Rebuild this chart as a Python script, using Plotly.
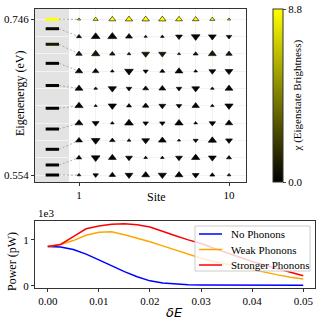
import numpy as np
import plotly.graph_objects as go
from plotly.colors import sample_colorscale

# ---- eigenstate data (bottom -> top) ----
sites = [1, 2, 3, 4, 5, 6, 7, 8, 9, 10]
energies = [0.554, 0.5664, 0.5857, 0.6107, 0.6363, 0.6644, 0.6917, 0.7152, 0.7344, 0.746]
chi = [0.05, 0.1, 0.2, 0.1, 0.15, 0.3, 0.2, 0.9, 0.3, 8.8]
amps = [
    [0.15, -0.35, 0.45, -0.6, 0.6, -0.65, 0.6, -0.5, 0.3, 0.15],
    [0.35, -0.7, 0.6, -0.5, 0.15, 0.15, -0.5, 0.65, -0.6, 0.3],
    [0.5, -0.7, 0.35, 0.15, -0.6, 0.6, 0.1, -0.3, 0.65, -0.5],
    [0.6, -0.5, 0.15, 0.7, -0.35, -0.35, 0.65, 0.15, -0.45, 0.55],
    [0.65, 0.1, -0.65, 0.3, 0.45, -0.5, -0.35, 0.55, 0.15, -0.65],
    [0.6, 0.15, -0.65, -0.35, 0.4, 0.5, -0.35, -0.6, 0.15, 0.6],
    [0.55, 0.45, 0.15, -0.7, -0.3, 0.3, 0.6, 0.15, -0.5, -0.6],
    [0.45, 0.65, 0.35, 0.15, -0.6, -0.55, 0.1, 0.3, 0.6, 0.45],
    [0.3, 0.7, 0.75, 0.5, 0.1, 0.15, -0.5, -0.7, -0.6, -0.35],
    [0.1, 0.3, 0.5, 0.55, 0.55, 0.55, 0.5, 0.45, 0.3, 0.1],
]
chi_max = 8.8

# ---- power vs detuning (units of 1e3 pW) ----
delta_e = [0.0, 0.0025, 0.005, 0.0075, 0.01, 0.0125, 0.015, 0.0175, 0.02, 0.0225, 0.025,
           0.0275, 0.03, 0.0325, 0.035, 0.0375, 0.04, 0.0425, 0.045, 0.0475, 0.05]
p_none = [0.855, 0.845, 0.79, 0.69, 0.565, 0.43, 0.31, 0.2, 0.11, 0.065, 0.04,
          0.028, 0.022, 0.02, 0.018, 0.017, 0.016, 0.015, 0.015, 0.015, 0.015]
p_weak = [0.855, 0.9, 0.985, 1.1, 1.165, 1.175, 1.11, 1.04, 0.96, 0.87, 0.78,
          0.68, 0.6, 0.53, 0.47, 0.41, 0.35, 0.29, 0.24, 0.19, 0.15]
p_strong = [0.855, 0.9, 1.07, 1.24, 1.30, 1.34, 1.35, 1.33, 1.28, 1.18, 1.09,
            1.0, 0.92, 0.82, 0.72, 0.63, 0.53, 0.45, 0.37, 0.29, 0.22]
series_names = ["No Phonons", "Weak Phonons", "Stronger Phonons"]
series_colors = ["blue", "orange", "red"]

cscale = [[0, "rgb(0,0,0)"], [1, "rgb(255,255,0)"]]
serif = "Liberation Serif"
W, H = 321, 324

fig = go.Figure()

row_y = np.linspace(min(energies), max(energies), len(energies))

# connectors + energy level bars
for E, ry in zip(energies, row_y):
    fig.add_trace(go.Scatter(x=[-0.2, 1], y=[E, ry], mode="lines",
                             line=dict(color="#9a9a9a", width=0.8, dash="2px,2px"),
                             showlegend=False, hoverinfo="skip"))
for E, c in zip(energies, chi):
    col = sample_colorscale(cscale, [c / chi_max])[0]
    fig.add_trace(go.Scatter(x=[-1.0, -0.2], y=[E, E], mode="lines",
                             line=dict(color=col, width=3), showlegend=False))

# site amplitudes
xs, ys, sz, sym, col = [], [], [], [], []
for ry, c, row in zip(row_y, chi, amps):
    for s, a in zip(sites, row):
        xs.append(s)
        ys.append(ry)
        sz.append(2 + 8 * abs(a))
        sym.append("triangle-up" if a >= 0 else "triangle-down")
        col.append(c)

fig.add_trace(go.Scatter(
    x=xs, y=ys, mode="markers", showlegend=False,
    marker=dict(size=sz, symbol=sym, color=col, colorscale=cscale, cmin=0, cmax=chi_max,
                opacity=1, line=dict(color="black", width=0.6),
                colorbar=dict(x=273 / W, xanchor="left", xpad=0, ypad=0,
                              y=1 - 95.5 / H, yanchor="middle",
                              len=173 / H, lenmode="fraction", thickness=10,
                              outlinewidth=1, outlinecolor="#333",
                              tickvals=[0, 8.8], ticktext=["0.0", "8.8"],
                              ticks="outside", ticklen=3,
                              tickfont=dict(family=serif, size=11))),
))

# power curves
for y, name, c in zip([p_none, p_weak, p_strong], series_names, series_colors):
    fig.add_trace(go.Scatter(x=delta_e, y=y, mode="lines", name=name, showlegend=False,
                             line=dict(color=c, width=1.5), xaxis="x2", yaxis="y2"))

fig.add_shape(type="rect", xref="x", yref="y domain", x0=-1.64, x1=0.4, y0=0, y1=1,
              fillcolor="#e3e3e3", line_width=0, layer="below")

# legend box (drawn by hand to match the compact spacing)
fig.add_shape(type="rect", xref="paper", yref="paper", x0=195 / W, x1=310 / W,
              y0=1 - 271 / H, y1=1 - 226 / H, fillcolor="rgba(255,255,255,0.8)",
              line=dict(color="#cccccc", width=1), layer="above")
annotations = []
for i, (name, c) in enumerate(zip(series_names, series_colors)):
    yy = 1 - (234 + 15.5 * i) / H
    fig.add_shape(type="line", xref="paper", yref="paper", x0=199 / W, x1=222 / W,
                  y0=yy, y1=yy, line=dict(color=c, width=1.5), layer="above")
    annotations.append(dict(text=name, x=229 / W, xref="paper", xanchor="left", y=yy,
                            yref="paper", yanchor="middle", showarrow=False,
                            font=dict(family=serif, size=11)))


def label(text, px, py, angle=0, size=12, family=serif):
    return dict(text=text, x=px / W, y=1 - py / H, xref="paper", yref="paper",
                xanchor="center", yanchor="middle", textangle=angle, showarrow=False,
                font=dict(family=family, size=size))


axis_common = dict(showline=True, mirror=True, linecolor="#333", linewidth=1,
                   ticks="outside", ticklen=3, tickcolor="#333", zeroline=False,
                   automargin=False,
                   tickfont=dict(family=serif, size=11, color="black"))

fig.update_layout(
    width=W, height=H, margin=dict(l=0, r=0, t=0, b=0),
    plot_bgcolor="white", paper_bgcolor="white",
    font=dict(family=serif, size=11, color="black"),
    showlegend=False,
    xaxis=dict(domain=[35 / W, 246 / W], range=[-1.64, 11.02], tickvals=[1, 10],
               showgrid=False,
               minor=dict(tickvals=sites, showgrid=True, gridcolor="#f3f3f3", gridwidth=0.8, ticks=""),
               **axis_common),
    yaxis=dict(domain=[1 - 182 / H, 1 - 9 / H], range=[0.5454, 0.7587],
               tickvals=[0.554, 0.746], ticktext=["0.554", "0.746"], showgrid=False,
               minor=dict(tickvals=list(row_y), showgrid=True, gridcolor="#f3f3f3", gridwidth=0.8, ticks=""),
               **axis_common),
    xaxis2=dict(domain=[35 / W, 315 / W], range=[-0.0025, 0.0523], anchor="y2",
                tickvals=[0, 0.01, 0.02, 0.03, 0.04, 0.05],
                ticktext=["0.00", "0.01", "0.02", "0.03", "0.04", "0.05"], showgrid=False,
                **axis_common),
    yaxis2=dict(domain=[1 - 288 / H, 1 - 221 / H], range=[-0.045, 1.41], anchor="x2",
                tickvals=[0, 1], ticktext=["0", "1"], showgrid=False,
                **axis_common),
    annotations=annotations + [
        label("Site", 156, 197),
        label("Eigenenergy (eV)", 20, 94, angle=-90),
        label("χ (Eigenstate Brightness)", 297, 95.5, angle=-90, size=11),
        label("Power (pW)", 12, 262, angle=-90),
        label("<i>δE</i>", 175, 312, size=13, family="DejaVu Sans"),
        label("1e3", 46, 213, size=11),
    ],
)

# page body has a default 8px margin; drop it so the figure fills the window
fig.write_html("out.html", config={"displayModeBar": False},
               post_script="document.body.style.margin='0';")
